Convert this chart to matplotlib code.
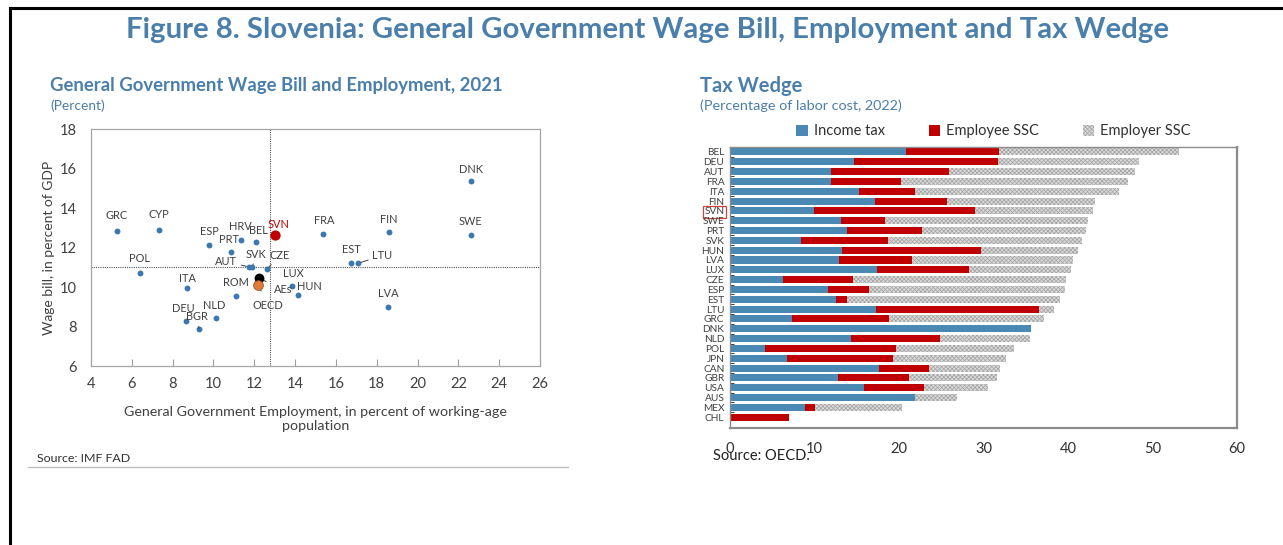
import matplotlib.pyplot as plt
import matplotlib.lines as mlines

plt.rcParams['font.family'] = ['Lato', 'DejaVu Sans']
plt.rcParams['hatch.linewidth'] = 0.5

# ---- left panel data: wage bill vs employment (2021)
countries = ['GRC', 'CYP', 'POL', 'ITA', 'DEU', 'BGR', 'NLD', 'ROM', 'ESP', 'PRT',
             'HRV', 'BEL', 'SVK', 'AUT', 'CZE', 'LUX', 'HUN', 'FRA', 'FIN', 'EST',
             'LTU', 'LVA', 'DNK', 'SWE']
employment = [5.27, 7.33, 6.40, 8.71, 8.66, 9.29, 10.13, 11.10, 9.78, 10.86,
              11.35, 12.09, 11.90, 11.75, 12.63, 13.85, 14.15, 15.37, 18.60, 16.75,
              17.10, 18.56, 22.60, 22.60]
wage_bill = [12.84, 12.89, 10.72, 9.95, 8.28, 7.88, 8.45, 9.52, 12.12, 11.77,
             12.36, 12.28, 11.00, 11.02, 10.90, 10.03, 9.58, 12.68, 12.76, 11.20,
             11.20, 8.99, 15.35, 12.62]
svn = (13.02, 12.63)
aes = (12.24, 10.44)
oecd = (12.20, 10.08)
ref_x, ref_y = 12.77, 11.0

# ---- right panel data: tax wedge (2022)
tw_countries = ['BEL', 'DEU', 'AUT', 'FRA', 'ITA', 'FIN', 'SVN', 'SWE', 'PRT', 'SVK',
                'HUN', 'LVA', 'LUX', 'CZE', 'ESP', 'EST', 'LTU', 'GRC', 'DNK', 'NLD',
                'POL', 'JPN', 'CAN', 'GBR', 'USA', 'AUS', 'MEX', 'CHL']
income_tax = [20.8, 14.7, 11.9, 11.9, 15.3, 17.2, 9.9, 13.1, 13.9, 8.4,
              13.2, 12.9, 17.4, 6.3, 11.6, 12.5, 17.3, 7.3, 35.6, 14.3,
              4.2, 6.7, 17.6, 12.8, 15.9, 21.9, 8.9, 0.0]
employee_ssc = [11.0, 17.0, 14.0, 8.3, 6.6, 8.5, 19.1, 5.3, 8.8, 10.3,
                16.5, 8.6, 10.9, 8.3, 4.8, 1.3, 19.3, 11.5, 0.0, 10.6,
                15.4, 12.6, 5.9, 8.4, 7.0, 0.0, 1.2, 7.0]
employer_ssc = [21.3, 16.7, 22.0, 26.9, 24.1, 17.5, 13.9, 24.0, 19.4, 23.0,
                11.5, 19.1, 12.1, 25.2, 23.2, 25.3, 1.7, 18.4, 0.0, 10.6,
                14.0, 13.4, 8.4, 10.4, 7.6, 5.0, 10.3, 0.0]

blue_txt = '#4a7eab'
dark = '#404040'

fig = plt.figure(figsize=(12.83, 5.45), dpi=100)

# outer frame lines
fig.add_artist(mlines.Line2D([10 / 1283, 1], [1 - 8 / 545, 1 - 8 / 545], color='black', lw=2.2))
fig.add_artist(mlines.Line2D([10 / 1283, 10 / 1283], [0, 1 - 8 / 545], color='black', lw=2.2))

fig.text(648 / 1283, 1 - 30 / 545,
         'Figure 8. Slovenia: General Government Wage Bill, Employment and Tax Wedge',
         ha='center', va='center', fontsize=21.2, fontweight='bold', color=blue_txt)

# ================= left scatter =================
ax1 = fig.add_axes([91 / 1283, 1 - 366 / 545, 449 / 1283, 237 / 545])
ax1.scatter(employment, wage_bill, s=18, color='#3b78b0', zorder=3, linewidths=0)
ax1.scatter([svn[0]], [svn[1]], s=55, color='#c00000', zorder=4, linewidths=0)
ax1.scatter([aes[0]], [aes[1]], s=50, color='black', zorder=4, linewidths=0)
ax1.scatter([oecd[0]], [oecd[1]], s=50, color='#e07b39', zorder=5, edgecolors='#8a4a1a', linewidths=0.5)
ax1.axvline(ref_x, color='#555555', lw=0.8, ls=(0, (1, 1)), zorder=1)
ax1.axhline(ref_y, color='#555555', lw=0.8, ls=(0, (1, 1)), zorder=1)

# label offsets in pixels (dx, dy), and whether a leader line is drawn
offsets = {
    'GRC': (0, 15, False), 'CYP': (0, 15, False), 'POL': (0, 14, False),
    'ITA': (0, 9, False), 'DEU': (-3, 12, False), 'BGR': (-2, 12, True),
    'NLD': (-2, 12, False), 'ROM': (0, 14, False), 'ESP': (0, 14, False),
    'PRT': (-2, 13, False), 'HRV': (-1, 14, False), 'BEL': (2, 11, False),
    'SVK': (4, 13, True), 'AUT': (-23, 5, True), 'CZE': (12, 14, True),
    'LUX': (1, 13, False), 'HUN': (11, 9, False), 'FRA': (1, 14, False),
    'FIN': (0, 13, False), 'EST': (0, 14, False), 'LTU': (24, 8, True),
    'LVA': (0, 13, False), 'DNK': (0, 12, False), 'SWE': (0, 14, False),
}
for c, x, y in zip(countries, employment, wage_bill):
    dx, dy, line = offsets[c]
    kw = dict(arrowprops=dict(arrowstyle='-', color='#404040', lw=0.7, shrinkA=1, shrinkB=2)) if line else {}
    ax1.annotate(c, (x, y), xytext=(dx * 0.72, dy * 0.72), textcoords='offset points',
                 ha='center', va='center', fontsize=7.9, color=dark, **kw)
ax1.annotate('SVN', svn, xytext=(3 * 0.72, 11 * 0.72), textcoords='offset points',
             ha='center', va='center', fontsize=7.9, color='#c00000')
ax1.annotate('AEs', aes, xytext=(24 * 0.72, -11 * 0.72), textcoords='offset points',
             ha='center', va='center', fontsize=7.9, color=dark,
             arrowprops=dict(arrowstyle='-', color='#404040', lw=0.7, shrinkA=4, shrinkB=3))
ax1.annotate('OECD', oecd, xytext=(10 * 0.72, -20 * 0.72), textcoords='offset points',
             ha='center', va='center', fontsize=7.9, color=dark,
             arrowprops=dict(arrowstyle='-', color='#404040', lw=0.7, shrinkA=5, shrinkB=3))

ax1.set_xlim(4, 26)
ax1.set_ylim(6, 18)
ax1.set_xticks(range(4, 27, 2))
ax1.set_yticks(range(6, 19, 2))
ax1.tick_params(axis='x', direction='in', length=5, color='#a0a0a0', labelsize=10.5, labelcolor=dark, pad=8)
ax1.tick_params(axis='y', length=0, labelsize=10.5, labelcolor=dark, pad=10)
for s in ax1.spines.values():
    s.set_color('#a6a6a6')
    s.set_linewidth(0.9)
ax1.set_xlabel('General Government Employment, in percent of working-age\npopulation',
               fontsize=10.3, color=dark, labelpad=11, linespacing=1.2)
ax1.set_ylabel('Wage bill, in percent of GDP', fontsize=10, color=dark, labelpad=4)

fig.text(50 / 1283, 1 - 86 / 545, 'General Government Wage Bill and Employment, 2021',
         ha='left', va='center', fontsize=13.3, fontweight='bold', color=blue_txt)
fig.text(50 / 1283, 1 - 106 / 545, '(Percent)', ha='left', va='center', fontsize=9.9, color=blue_txt)
fig.text(37 / 1283, 1 - 458 / 545, 'Source: IMF FAD', ha='left', va='center', fontsize=8.9, color='#303030')
fig.add_artist(mlines.Line2D([28 / 1283, 568 / 1283], [1 - 467 / 545, 1 - 467 / 545],
                             color='#bfbfbf', lw=1))

# ================= right stacked bars =================
ax2 = fig.add_axes([730 / 1283, 1 - 428 / 545, 507 / 1283, 281 / 545])
pos = list(range(len(tw_countries)))
left2 = [a + b for a, b in zip(income_tax, employee_ssc)]
ax2.barh(pos, income_tax, height=0.72, color='#4a89b4', label='Income tax', zorder=2)
ax2.barh(pos, employee_ssc, left=income_tax, height=0.72, color='#c00000', label='Employee SSC', zorder=2)
ax2.barh(pos, employer_ssc, left=left2, height=0.72, facecolor='#dadada', edgecolor='#a3a3a3',
         hatch='xxxxxxxx', lw=0, label='Employer SSC', zorder=2)
ax2.set_xlim(0, 60)
ax2.set_ylim(len(tw_countries) + 0.1, -0.5)
ax2.set_yticks(pos)
ax2.set_yticklabels(tw_countries)
ax2.set_yticks([p + 0.5 for p in pos[:-1]], minor=True)
ax2.tick_params(axis='y', which='major', length=0, labelsize=7.3, labelcolor=dark, pad=4)
ax2.tick_params(axis='y', which='minor', direction='in', length=3, color='#404040', width=0.7)
ax2.set_xticks(range(0, 61, 10))
ax2.tick_params(axis='x', bottom=False, top=True, direction='in', length=4, color='#404040',
                labelbottom=True, labeltop=False, labelsize=10.5, labelcolor='#303030', pad=10)
for k, s in ax2.spines.items():
    s.set_color('#8c8c8c')
    s.set_linewidth(1.6 if k in ('right', 'bottom') else 1.0)
for lbl in ax2.get_yticklabels():
    if lbl.get_text() == 'SVN':
        lbl.set_bbox(dict(facecolor='none', edgecolor='#d04040', lw=0.9, pad=1.2))

ax2.legend(loc='lower center', bbox_to_anchor=(0.52, 1.0), ncol=3, frameon=False,
           fontsize=10.5, handlelength=0.8, handleheight=0.8, columnspacing=3.0,
           handletextpad=0.4, labelcolor='#303030', borderaxespad=0.2)

fig.text(700 / 1283, 1 - 86 / 545, 'Tax Wedge', ha='left', va='center', fontsize=14.5,
         fontweight='bold', color=blue_txt)
fig.text(700 / 1283, 1 - 106 / 545, '(Percentage of labor cost, 2022)', ha='left', va='center',
         fontsize=10.4, color=blue_txt)
fig.text(713 / 1283, 1 - 456 / 545, 'Source: OECD.', ha='left', va='center', fontsize=10.5, color='#202020')

fig.savefig('out.png', dpi=100)
